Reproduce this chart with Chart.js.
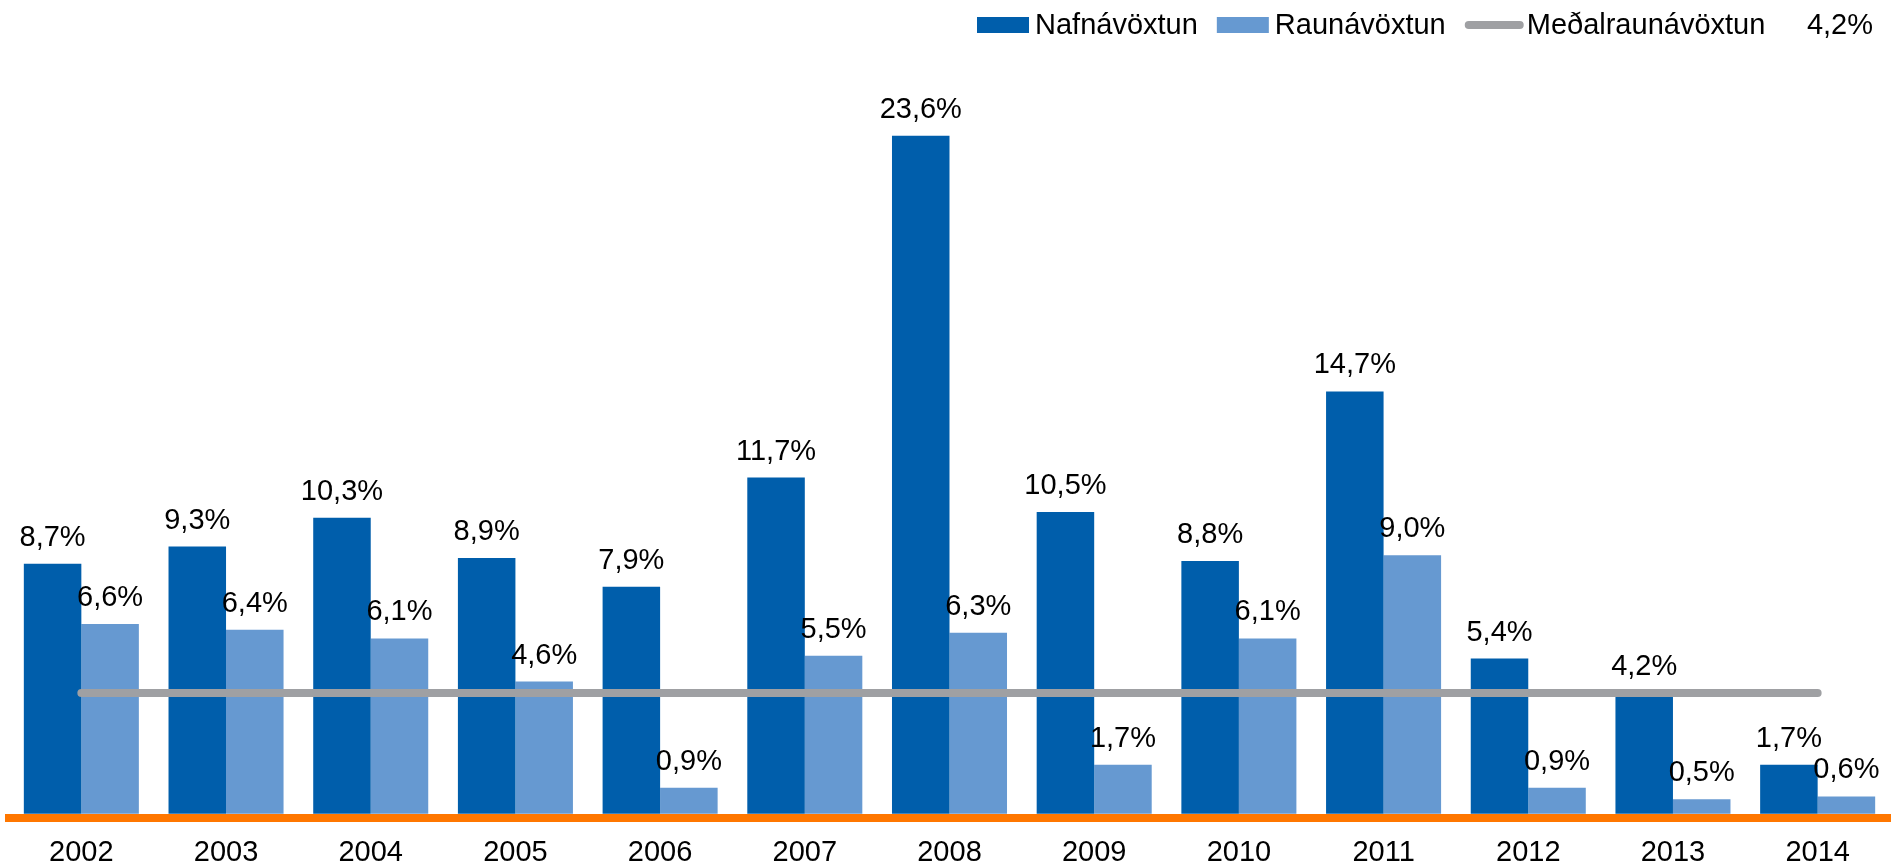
<!DOCTYPE html>
<html><head><meta charset="utf-8">
<script src="https://cdn.jsdelivr.net/npm/chart.js@4"></script>
<style>html,body{margin:0;padding:0;background:#fff}#wrap{width:1895px;height:868px;position:relative}</style>
</head><body><div id="wrap"><canvas id="c"></canvas></div>
<script>
const years = ['2002','2003','2004','2005','2006','2007','2008','2009','2010','2011','2012','2013','2014'];
const nafnavoxtun = [8.7, 9.3, 10.3, 8.9, 7.9, 11.7, 23.6, 10.5, 8.8, 14.7, 5.4, 4.2, 1.7];
const raunavoxtun = [6.6, 6.4, 6.1, 4.6, 0.9, 5.5, 6.3, 1.7, 6.1, 9.0, 0.9, 0.5, 0.6];
const medalraunavoxtun = [4.2, 4.2, 4.2, 4.2, 4.2, 4.2, 4.2, 4.2, 4.2, 4.2, 4.2, 4.2, 4.2];
const medalValueLabel = '4,2%';
const seriesNames = ['Nafnávöxtun', 'Raunávöxtun', 'Meðalraunávöxtun'];

const FONT = '"Liberation Sans", Arial, sans-serif';
const C_DARK = '#005EAB', C_LIGHT = '#6699D1', C_GRAY = '#9FA0A3', C_ORANGE = '#FF7700';
const fmt = v => v.toFixed(1).replace('.', ',') + '%';

const barLabels = {
  id: 'barLabels',
  afterDatasetsDraw(chart) {
    const ctx = chart.ctx;
    ctx.save();
    ctx.font = '29px ' + FONT;
    ctx.fillStyle = '#000';
    ctx.textAlign = 'center';
    ctx.textBaseline = 'alphabetic';
    chart.data.datasets.forEach((ds, i) => {
      if (ds.type === 'line') return;
      const meta = chart.getDatasetMeta(i);
      meta.data.forEach((el, j) => {
        ctx.fillText(fmt(ds.data[j]), el.x, el.y - 18);
      });
    });
    ctx.restore();
  }
};

const topLegend = {
  id: 'topLegend',
  afterDraw(chart) {
    const ctx = chart.ctx;
    ctx.save();
    ctx.font = '29px ' + FONT;
    ctx.textBaseline = 'alphabetic';
    ctx.textAlign = 'left';
    const cy = 25, base = 34;
    let x = 977;
    chart.data.datasets.forEach((ds) => {
      if (ds.type === 'line') {
        ctx.strokeStyle = ds.borderColor;
        ctx.lineWidth = 8;
        ctx.lineCap = 'round';
        ctx.beginPath();
        ctx.moveTo(x + 4, cy);
        ctx.lineTo(x + 55, cy);
        ctx.stroke();
        x += 62;
      } else {
        ctx.fillStyle = ds.backgroundColor;
        ctx.fillRect(x, 17, 52, 16);
        x += 58;
      }
      ctx.fillStyle = '#000';
      ctx.fillText(ds.label, x, base);
      x += ctx.measureText(ds.label).width + 19;
    });
    ctx.textAlign = 'right';
    ctx.fillText(medalValueLabel, 1873, base);
    ctx.restore();
  }
};

new Chart(document.getElementById('c'), {
  type: 'bar',
  data: {
    labels: years,
    datasets: [
      { type: 'bar', label: seriesNames[0], data: nafnavoxtun, backgroundColor: C_DARK, order: 1,
        categoryPercentage: 0.795, barPercentage: 1.0, borderWidth: 0 },
      { type: 'bar', label: seriesNames[1], data: raunavoxtun, backgroundColor: C_LIGHT, order: 2,
        categoryPercentage: 0.795, barPercentage: 1.0, borderWidth: 0 },
      { type: 'line', label: seriesNames[2], data: medalraunavoxtun, borderColor: C_GRAY, backgroundColor: C_GRAY,
        borderWidth: 8, borderCapStyle: 'round', pointRadius: 0, fill: false, order: 0 }
    ]
  },
  options: {
    responsive: true,
    maintainAspectRatio: false,
    animation: false,
    layout: { padding: { top: 61, left: 9, right: 5, bottom: 0 } },
    plugins: { legend: { display: false }, tooltip: { enabled: false } },
    scales: {
      x: {
        grid: { display: false, drawTicks: false },
        border: { display: true, color: C_ORANGE, width: 8 },
        ticks: { color: '#000', font: { family: FONT, size: 29 }, padding: 18 },
        afterFit(scale) { scale.height = 50; }
      },
      y: { display: false, min: -0.15, max: 26.2 }
    }
  },
  plugins: [barLabels, topLegend]
});
</script>
</body></html>
